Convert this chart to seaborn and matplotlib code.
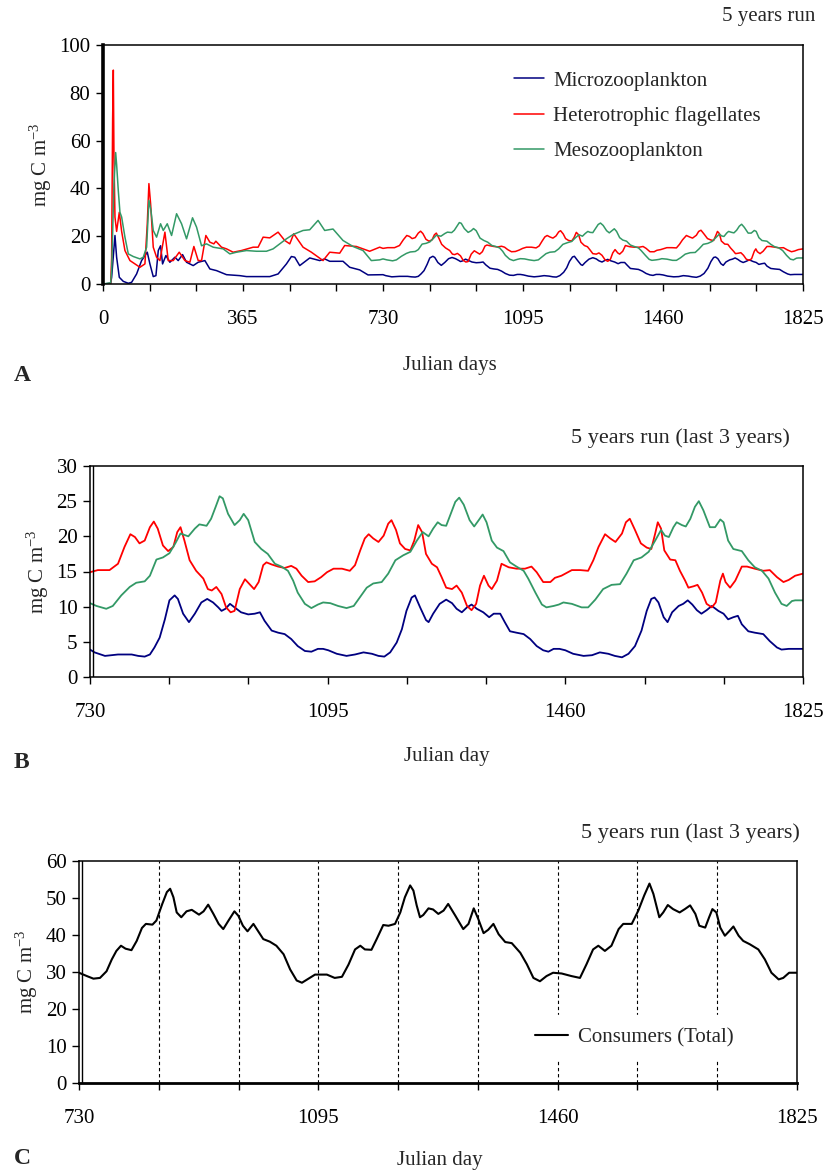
import numpy as np
import matplotlib
matplotlib.use("Agg")
import matplotlib.pyplot as plt
import seaborn as sns

# ---------------- data (mg C m-3 against Julian day) ----------------
# Panel A, first two simulated years
micro_days_y12 = [0, 20, 22.5, 31.2, 35.5, 42.5, 52.9, 65.9, 74.6, 87.6, 100.6, 115.4, 122.3, 131, 138,
                  144.1, 150.1, 155.3, 164, 174.4, 187.4, 196.1, 207.4, 217.8, 235.2, 248.2, 265.6, 278.6,
                  296, 322, 356.7, 374.1, 400.1, 434.8, 456.5, 478.2, 491.2, 499.9, 512.9, 539, 565, 578,
                  591.1, 625.8, 643.1, 669.2, 690.9, 721.3]
micro_y12 = [0, 0.3, 2.8, 20.3, 11.2, 2.8, 1.1, 0.3, 0.7, 4.2, 9.8, 13.3, 8.4, 3.1, 3.5,
             14, 16, 8.4, 11.9, 9.1, 11.2, 9.8, 12.3, 9.1, 7.7, 9.1, 9.8, 6.3,
             5.6, 3.9, 3.5, 3.1, 3.1, 3.1, 4.2, 8.4, 11.5, 11.2, 7.7, 10.9, 9.8, 10.5,
             9.5, 9.5, 7, 5.9, 3.8, 3.9]

hflag_days_y12 = [0, 20, 22.5, 25.1, 26.9, 28.6, 31.2, 35.5, 42.5, 48.6, 57.2, 70.3, 96.3, 109.3, 115.4,
                  119.7, 124.1, 131, 139.7, 148.4, 161.4, 170.1, 183.1, 198.7, 213.5, 226.5, 236.9, 248.2,
                  256.9, 268.2, 278.6, 289, 294.2, 309, 322, 339.3, 361, 391.4, 404.4, 417.5, 434.8, 456.5,
                  473.9, 486.9, 497.3, 521.6, 543.3, 573.7, 591.1, 617.1, 630.1, 660.5, 695.2, 721.3]
hflag_y12 = [0, 0.2, 11, 69, 89.5, 53, 28, 22, 30, 22, 14, 9.8, 7, 8.4, 25,
             42, 33.6, 15.4, 11.2, 9.8, 21.7, 9.8, 9.8, 13.3, 9.8, 9.1, 15.7, 9.8,
             9.8, 20.3, 17.5, 16.8, 17.9, 15.4, 14.7, 13.3, 14, 15.4, 15.4, 19.6, 19.3, 21.7,
             18.2, 16.8, 21, 15.4, 13.3, 9.8, 13.3, 12.9, 16.1, 15.7, 13.7, 15.4]

meso_days_y12 = [0, 20, 22.5, 28.6, 33, 35.5, 39.9, 44.2, 48.6, 57.2, 65.9, 78.9, 96.3, 105, 113.7,
                 119.7, 125, 131, 139.7, 150.1, 157.1, 167.5, 178.8, 191.8, 204.8, 217.8, 233.4, 243.9,
                 256.9, 269.9, 287.3, 313.3, 330.7, 348, 374.1, 400.1, 426.1, 443.5, 460.9, 478.2, 495.6,
                 521.6, 539, 560.7, 578, 599.7, 625.8, 651.8, 677.9, 699.6, 721.3]
meso_y12 = [0, 0.5, 5.6, 42, 55, 50, 39, 30, 28, 19.6, 12.6, 11.5, 10.5, 11.2, 15.4,
            35, 30.8, 22.4, 19.6, 25.2, 22.4, 25.2, 20.3, 29.4, 25.2, 18.9, 27.7, 23.8,
            16, 16.8, 15.4, 14.7, 12.6, 13.3, 14, 13.7, 13.7, 14.7, 16.8, 18.9, 20.7,
            22.4, 22.7, 26.6, 22.4, 23, 18.2, 15.7, 14, 9.8, 10.1]

# Last three years (days 730-1825)
micro_days = [730, 737, 753, 773, 794, 804, 814, 822, 829, 837, 845, 852, 860, 865, 873, 882, 891, 901,
              910, 919, 927, 932, 938, 945, 952, 962, 973, 983, 991, 998, 1009, 1019, 1029, 1039, 1049,
              1060, 1070, 1080, 1088,
              1096, 1109, 1124, 1137, 1150, 1163, 1173, 1182, 1191, 1201, 1209, 1216, 1224, 1229, 1237,
              1246, 1250, 1257, 1267, 1277, 1286, 1293, 1301, 1309, 1316, 1324, 1334, 1343, 1350, 1360,
              1367, 1375, 1385, 1396, 1406, 1416, 1426, 1434, 1442,
              1451, 1460, 1472, 1488, 1501, 1513, 1526, 1536, 1547, 1557, 1567, 1577, 1585, 1592, 1597,
              1603, 1611, 1617, 1624, 1634, 1641, 1648, 1655, 1662, 1669, 1677, 1685, 1695, 1703, 1710,
              1718, 1725, 1731, 1741, 1751, 1764, 1774, 1785, 1792, 1803, 1813, 1825]
micro = [3.9, 3.5, 3.0, 3.2, 3.2, 3.0, 2.9, 3.2, 4.2, 5.6, 8.2, 10.9, 11.6, 11.1, 9.0, 7.8, 9.0, 10.6,
         11.1, 10.6, 9.9, 9.4, 9.7, 10.4, 9.9, 9.2, 8.9, 9.0, 9.2, 8.0, 6.6, 6.3, 6.1, 5.4, 4.4,
         3.7, 3.6, 4.0, 4.0,
         3.8, 3.3, 3.0, 3.2, 3.5, 3.3, 3.0, 2.9, 3.5, 4.9, 6.8, 9.4, 11.3, 11.6, 9.9,
         8.1, 7.8, 9.0, 10.4, 11.0, 10.5, 9.7, 9.2, 9.9, 10.3, 9.7, 9.2, 8.5, 9.0, 9.0,
         7.8, 6.5, 6.3, 6.1, 5.4, 4.4, 3.8, 3.6, 4.0,
         4.0, 3.8, 3.3, 3.0, 3.1, 3.5, 3.3, 3.0, 2.8, 3.3, 4.4, 6.6, 9.4, 11.1, 11.3,
         10.6, 8.5, 7.8, 9.2, 10.1, 10.4, 10.9, 10.3, 9.5, 9.0, 9.5, 10.1, 9.4, 9.0, 8.2,
         8.5, 8.7, 7.5, 6.5, 6.3, 6.1, 5.1, 4.2, 3.9, 4.0, 4.0, 4.0]

hflag_days = [730, 742, 760, 773, 783, 792, 799, 806, 814, 822, 828, 834, 842, 850, 858, 864, 869, 875,
              883, 893, 904, 911, 917, 924, 932, 939, 946, 952, 960, 968, 974, 982, 989, 996, 1001, 1009,
              1019, 1029, 1039, 1047, 1055, 1065, 1075, 1085,
              1094, 1104, 1117, 1129, 1137, 1145, 1152, 1158, 1165, 1173, 1181, 1188, 1193, 1200, 1206,
              1214, 1222, 1228, 1234, 1240, 1246, 1255, 1263, 1270, 1277, 1286, 1293, 1301, 1309, 1316,
              1323, 1329, 1335, 1342, 1347, 1355, 1362, 1373, 1385, 1398, 1408, 1416, 1426, 1437,
              1444, 1454, 1470, 1483, 1495, 1503, 1511, 1521, 1529, 1537, 1547, 1553, 1559, 1567, 1576,
              1585, 1592, 1598, 1602, 1607, 1612, 1621, 1629, 1636, 1644, 1649, 1657, 1663, 1670, 1677,
              1685, 1691, 1698, 1702, 1706, 1713, 1721, 1731, 1739, 1751, 1764, 1774, 1785, 1795, 1803,
              1813, 1825]
hflag = [14.9, 15.2, 15.2, 16.1, 18.5, 20.3, 19.9, 19.0, 19.4, 21.3, 22.1, 21.1, 18.7, 17.9, 18.5, 20.6,
         21.3, 19.4, 16.6, 15.1, 14.0, 12.5, 12.3, 12.8, 11.8, 9.9, 9.2, 9.4, 12.5, 13.9, 13.3, 12.5,
         13.5, 15.9, 16.3, 16.0, 15.7, 15.5, 15.8, 15.4, 14.4, 13.5, 13.6, 14.2,
         14.9, 15.4, 15.4, 15.1, 15.9, 18.0, 19.7, 20.3, 19.7, 19.2, 20.1, 21.8, 22.3, 20.9, 19.0,
         18.2, 18.0, 19.4, 21.6, 20.6, 17.5, 16.1, 15.6, 14.2, 12.7, 12.5, 13.0, 12.0, 10.1, 9.5,
         10.4, 13.0, 14.4, 13.0, 12.5, 13.7, 16.1, 15.6, 15.4, 15.4, 15.7, 14.9, 13.5, 13.5,
         14.1, 14.4, 15.2, 15.2, 15.1, 16.6, 18.5, 20.3, 19.7, 19.2, 20.4, 22.0, 22.5, 20.9, 19.0,
         18.4, 18.2, 20.4, 22.0, 21.1, 18.0, 16.7, 16.6, 15.1, 13.7, 12.7, 12.9, 13.1, 12.0, 10.4,
         9.9, 10.6, 13.7, 14.7, 13.5, 12.7, 13.7, 15.7, 15.7, 15.4, 15.1, 15.2, 14.2, 13.5, 13.8,
         14.4, 14.7]

meso_days = [730, 740, 755, 765, 778, 791, 801, 814, 822, 832, 842, 852, 861, 869, 881, 891, 898, 909,
             916, 923, 929, 934, 942, 952, 960, 966, 973, 983, 993, 1003, 1014, 1024, 1034, 1042, 1049,
             1060, 1070, 1080, 1088,
             1099, 1111, 1124, 1135, 1145, 1155, 1165, 1178, 1188, 1199, 1211, 1222, 1232, 1241, 1250,
             1257, 1264, 1270, 1277, 1284, 1291, 1297, 1304, 1313, 1320, 1327, 1333, 1339, 1347, 1355,
             1365, 1375, 1385, 1396, 1403, 1414, 1424, 1431, 1442,
             1450, 1457, 1470, 1485, 1495, 1506, 1518, 1531, 1544, 1554, 1565, 1577, 1588, 1598, 1607,
             1613, 1619, 1626, 1631, 1639, 1645, 1652, 1659, 1665, 1672, 1682, 1690, 1698, 1703, 1710,
             1718, 1731, 1741, 1751, 1762, 1772, 1782, 1792, 1800, 1808, 1813, 1825]
meso = [10.5, 10.1, 9.7, 10.1, 11.6, 12.8, 13.4, 13.6, 14.4, 16.7, 17.0, 17.6, 19.0, 20.4, 20.0, 21.1,
        21.7, 21.5, 22.5, 24.2, 25.7, 25.4, 23.2, 21.6, 22.3, 23.2, 22.3, 19.2, 18.2, 17.5, 16.1, 15.7,
        15.1, 13.7, 12.0, 10.4, 9.8, 10.3, 10.6,
        10.5, 10.1, 9.8, 10.1, 11.4, 12.7, 13.3, 13.5, 14.7, 16.6, 17.3, 17.8, 19.4, 20.6, 20.0,
        21.1, 22.0, 21.6, 21.5, 23.2, 24.9, 25.5, 24.5, 22.3, 21.4, 22.3, 23.1, 22.0, 19.4, 18.4,
        17.9, 16.3, 15.7, 15.1, 14.0, 12.0, 10.3, 9.9, 10.1,
        10.3, 10.6, 10.4, 9.9, 9.9, 11.0, 12.5, 13.1, 13.2, 14.7, 16.6, 17.0, 17.8, 19.4, 20.9,
        20.1, 19.9, 21.3, 22.0, 21.6, 21.4, 22.5, 24.2, 25.0, 23.7, 21.3, 21.3, 22.4, 22.0, 19.4,
        18.2, 17.9, 16.6, 15.6, 15.1, 14.0, 12.0, 10.4, 10.1, 10.8, 10.9, 10.9]

# Panel C: all consumers together
total_days = [730, 742, 752, 762, 772, 780, 787, 794, 801, 810, 818, 826, 832, 842, 848, 857, 864, 869,
              874, 879, 886, 894, 902, 913, 920, 927, 935, 943, 950, 958, 967, 973, 980, 987, 996, 1003,
              1011, 1021, 1031, 1042, 1052, 1062, 1070, 1080, 1090, 1100,
              1108, 1120, 1131, 1141, 1151, 1159, 1166, 1176, 1184, 1194, 1202, 1212, 1220, 1227, 1235,
              1240, 1245, 1250, 1255, 1263, 1270, 1278, 1286, 1293,
              1304, 1316, 1324, 1332, 1339, 1347, 1354, 1362, 1370, 1380, 1390, 1403, 1413, 1423, 1433,
              1443, 1453, 1466, 1481, 1494, 1504, 1514, 1522, 1532, 1542, 1553, 1560, 1573, 1583, 1592,
              1600, 1606, 1615, 1621, 1628, 1636, 1646, 1654, 1662, 1670, 1676, 1685, 1691, 1696, 1702,
              1708, 1715, 1722, 1728, 1736, 1743, 1753, 1766, 1776, 1786, 1797, 1804, 1813, 1825]
total = [29.8, 28.9, 28.2, 28.4, 30.2, 33.4, 35.7, 37.1, 36.3, 35.9, 38.4, 41.9, 43.0, 42.8, 43.9, 48.4,
         51.6, 52.5, 50.2, 46.1, 44.8, 46.4, 46.8, 45.5, 46.4, 48.2, 45.7, 43.0, 41.6, 43.9, 46.4, 45.2,
         42.5, 41.0, 43.0, 41.1, 38.9, 38.2, 37.1, 34.8, 30.7, 27.7, 27.1, 28.2, 29.3, 29.3,
         29.3, 28.4, 28.7, 32.0, 36.1, 37.1, 36.1, 36.0, 38.9, 42.7, 42.5, 43.0, 46.1, 50.2, 53.4,
         52.0, 48.0, 44.8, 45.4, 47.2, 46.9, 45.7, 46.6, 48.4,
         45.2, 41.6, 43.0, 47.2, 44.3, 40.5, 41.4, 43.0, 40.2, 38.1, 37.8, 35.2, 32.1, 28.4, 27.5,
         28.9, 29.8, 29.6, 28.9, 28.4, 32.1, 36.1, 37.1, 35.7, 37.1, 41.6, 43.0, 43.0, 46.6, 50.7,
         53.9, 51.1, 44.8, 46.1, 48.1, 47.0, 46.1, 47.0, 48.0, 45.7, 42.5, 42.0, 44.8, 47.0, 46.1,
         42.0, 39.8, 41.1, 42.3, 39.8, 38.4, 37.5, 36.1, 33.4, 29.8, 28.0, 28.4, 29.8, 29.8]

series_names = ["Microzooplankton", "Heterotrophic flagellates", "Mesozooplankton"]
series_colors = ["#000080", "#FF0000", "#339966"]

# ---------------- style ----------------
sns.set_style("ticks")
plt.rcParams["font.family"] = ["Liberation Serif", "DejaVu Serif"]
plt.rcParams["mathtext.fontset"] = "custom"
plt.rcParams["mathtext.rm"] = "Liberation Serif"
plt.rcParams["mathtext.it"] = "Liberation Serif:italic"
plt.rcParams["axes.edgecolor"] = "black"
plt.rcParams["axes.linewidth"] = 1.1
plt.rcParams["xtick.color"] = "black"
plt.rcParams["ytick.color"] = "black"

FS = 15
YLAB = "mg C m$^{-3}$"
W, H = 828, 1173

fig = plt.figure(figsize=(W / 100, H / 100), dpi=100)


def box(l, t, r, b):
    return [l / W, 1 - b / H, (r - l) / W, (b - t) / H]


def style_axis(ax, x0, yticks):
    step = 365 / 3
    ticks = np.arange(x0, 1825 + 1, step)
    labels = [str(int(round(t))) if abs((t / 365) - round(t / 365)) < 1e-6 else "" for t in ticks]
    ax.set_xticks(ticks)
    ax.set_xticklabels(labels)
    ax.set_xlim(x0, 1825)
    ax.set_yticks(yticks)
    ax.set_ylim(yticks[0], yticks[-1])
    ax.tick_params(axis="x", length=5, width=1, pad=14, labelsize=FS, direction="out")
    ax.tick_params(axis="y", length=5, width=1, pad=4, labelsize=FS, direction="out")
    for s in ax.spines.values():
        s.set_visible(True)
        s.set_color("black")
    ax.set_xlabel("")
    ax.set_ylabel(YLAB, fontsize=FS, labelpad=4)


# ---------------- Panel A ----------------
axA = fig.add_axes(box(103, 45, 803, 284))
days_a = [micro_days_y12 + micro_days, hflag_days_y12 + hflag_days, meso_days_y12 + meso_days]
vals_a = [micro_y12 + micro, hflag_y12 + hflag, meso_y12 + meso]
for d, v, name, col in zip(days_a, vals_a, series_names, series_colors):
    sns.lineplot(x=d, y=v, ax=axA, color=col, lw=1.1, label=name, estimator=None, sort=False)
style_axis(axA, 0, [0, 20, 40, 60, 80, 100])
axA.spines["left"].set_linewidth(2.6)
axA.legend(loc="upper left", bbox_to_anchor=(0.56, 0.97), frameon=False, fontsize=FS,
           handlelength=1.45, labelspacing=0.75, handletextpad=0.45)

# ---------------- Panel B ----------------
axB = fig.add_axes(box(90, 466, 803, 677))
for d, v, col in zip([micro_days, hflag_days, meso_days], [micro, hflag, meso], series_colors):
    sns.lineplot(x=d, y=v, ax=axB, color=col, lw=1.3, estimator=None, sort=False, legend=False)
style_axis(axB, 730, [0, 5, 10, 15, 20, 25, 30])
axB.axvline(734, color="black", lw=1.0)

# ---------------- Panel C ----------------
axC = fig.add_axes(box(79, 861, 797, 1083))
for t in np.arange(730, 1825, 365 / 3)[1:]:
    axC.axvline(t, color="black", lw=0.8, ls=(0, (3, 2.5)), zorder=1)
sns.lineplot(x=total_days, y=total, ax=axC, color="black", lw=1.5, label="Consumers (Total)",
             estimator=None, sort=False, zorder=3)
style_axis(axC, 730, [0, 10, 20, 30, 40, 50, 60])
axC.spines["bottom"].set_linewidth(2.0)
axC.axvline(734, color="black", lw=1.0)
legC = axC.legend(loc="center", bbox_to_anchor=(0.773, 0.205), frameon=True, fontsize=FS,
                  handlelength=1.6, handletextpad=0.45, borderpad=0.6, fancybox=False)
legC.get_frame().set_facecolor("white")
legC.get_frame().set_edgecolor("white")
legC.get_frame().set_alpha(1.0)
legC.set_zorder(5)

# ---------------- titles, axis titles and panel letters ----------------
fig.text(815 / W, 1 - 17 / H, "5 years run", ha="right", va="center", fontsize=FS)
fig.text(790 / W, 1 - 438 / H, "5 years run (last 3 years)", ha="right", va="center", fontsize=16)
fig.text(800 / W, 1 - 833 / H, "5 years run (last 3 years)", ha="right", va="center", fontsize=16)

fig.text(450 / W, 1 - 365 / H, "Julian days", ha="center", va="center", fontsize=FS)
fig.text(447 / W, 1 - 757 / H, "Julian day", ha="center", va="center", fontsize=FS)
fig.text(440 / W, 1 - 1160 / H, "Julian day", ha="center", va="center", fontsize=FS)

for letter, y in [("A", 375), ("B", 762), ("C", 1158)]:
    fig.text(14 / W, 1 - y / H, letter, ha="left", va="center", fontsize=17, fontweight="bold")

fig.savefig("out.png", dpi=100)
